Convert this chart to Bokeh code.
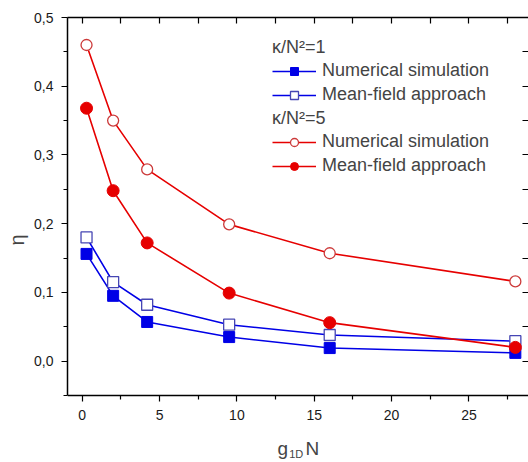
from bokeh.plotting import figure
from bokeh.models import Range1d, FixedTicker, LinearAxis, Legend, LegendItem, Label
from bokeh.embed import file_html
from bokeh.resources import INLINE

# ---- data ----
g1dN = [0.28, 2.0, 4.2, 9.5, 16.0, 28.0]
k1_numerical = [0.156, 0.095, 0.057, 0.035, 0.019, 0.012]
k1_meanfield = [0.180, 0.115, 0.082, 0.053, 0.038, 0.029]
k5_numerical = [0.460, 0.350, 0.279, 0.199, 0.157, 0.116]
k5_meanfield = [0.368, 0.248, 0.172, 0.099, 0.056, 0.020]

x_major = [0, 5, 10, 15, 20, 25]
x_minor = [2.5, 7.5, 12.5, 17.5, 22.5, 27.5]
y_major = [0.0, 0.1, 0.2, 0.3, 0.4, 0.5]
y_minor = [-0.05, 0.05, 0.15, 0.25, 0.35, 0.45]
y_labels = ["0,0", "0,1", "0,2", "0,3", "0,4", "0,5"]
y_axis_bottom = -0.05
y_axis_top = 0.5

FONT = "Liberation Sans"
BLUE = "#0000e6"
RED = "#e60000"

# the frame reaches the page bottom so the x-axis title (drawn as labels) is not clipped;
# the visible x axis is placed at y = -0.05
p = figure(width=528, height=462, output_backend="svg", toolbar_location=None,
           x_range=Range1d(-0.95, 28.85), y_range=Range1d(-0.1475, y_axis_top),
           min_border_left=67, min_border_top=17, min_border_bottom=0, min_border_right=0)
p.grid.visible = False
p.outline_line_color = None
p.background_fill_color = "white"
p.border_fill_color = "white"

def style_axis(ax, ticks, minor, inward=False):
    ax.axis_line_width = 1.5
    ax.axis_line_color = "black"
    ax.major_tick_line_width = 1.2
    ax.minor_tick_line_width = 1.2
    ax.major_label_text_font = FONT
    ax.major_label_text_font_size = "14px"
    ax.major_label_text_color = "#1a1a1a"
    if inward:
        # mirrored axes: ticks only, no labels
        ax.ticker = FixedTicker(ticks=[], minor_ticks=ticks + minor)
        ax.minor_tick_in = 6
        ax.minor_tick_out = 0
        ax.major_tick_in = 0
        ax.major_tick_out = 0
        ax.major_label_standoff = 0
    else:
        ax.ticker = FixedTicker(ticks=ticks, minor_ticks=minor)
        ax.major_tick_in = 0
        ax.major_tick_out = 6
        ax.minor_tick_in = 0
        ax.minor_tick_out = 4

xa = p.xaxis[0]
ya = p.yaxis[0]
style_axis(xa, x_major, x_minor)
style_axis(ya, y_major, y_minor)
xa.fixed_location = y_axis_bottom
xa.major_label_standoff = 9
ya.bounds = (y_axis_bottom, y_axis_top)
ya.major_label_standoff = 8
ya.major_label_overrides = {v: s for v, s in zip(y_major, y_labels)}
ya.axis_label = "η"
ya.axis_label_text_font = FONT
ya.axis_label_text_font_size = "20px"
ya.axis_label_text_font_style = "normal"
ya.axis_label_standoff = 3

top = LinearAxis()
style_axis(top, x_major, x_minor, inward=True)
p.add_layout(top, "above")
right = LinearAxis(bounds=(y_axis_bottom, y_axis_top))
style_axis(right, y_major, y_minor, inward=True)
right.axis_line_color = None
p.add_layout(right, "right")

# ---- series ----
l1n = p.line(g1dN, k1_numerical, line_color=BLUE, line_width=1.6)
s1n = p.scatter(g1dN, k1_numerical, marker="square", size=11, fill_color=BLUE, line_color=BLUE)
l1m = p.line(g1dN, k1_meanfield, line_color=BLUE, line_width=1.6)
s1m = p.scatter(g1dN, k1_meanfield, marker="square", size=11, fill_color="white", line_color="#4646b4", line_width=1.3)
l5n = p.line(g1dN, k5_numerical, line_color=RED, line_width=1.6)
s5n = p.scatter(g1dN, k5_numerical, marker="circle", size=11, fill_color="white", line_color="#cc3a3a", line_width=1.3)
l5m = p.line(g1dN, k5_meanfield, line_color=RED, line_width=1.6)
s5m = p.scatter(g1dN, k5_meanfield, marker="circle", size=12, fill_color=RED, line_color=RED)

def make_legend(title, items, loc):
    lg = Legend(items=items, location=loc, title=title,
                title_text_font=FONT, title_text_font_size="18px", title_text_font_style="normal",
                title_standoff=2,
                label_text_font=FONT, label_text_font_size="18px",
                glyph_width=44, glyph_height=20, label_height=20, label_standoff=6,
                spacing=3, padding=0, margin=0,
                border_line_color=None, background_fill_alpha=0)
    p.add_layout(lg, "center")

make_legend("κ/N²=1", [LegendItem(label="Numerical simulation", renderers=[l1n, s1n]),
                       LegendItem(label="Mean-field approach", renderers=[l1m, s1m])], (205, 357))
make_legend("κ/N²=5", [LegendItem(label="Numerical simulation", renderers=[l5n, s5n]),
                       LegendItem(label="Mean-field approach", renderers=[l5m, s5m])], (205, 286))

# ---- x axis title: g_1D N ----
p.add_layout(Label(x=12.62, y=-0.1275, text="g", text_font=FONT, text_font_size="19px",
                   text_align="left", text_baseline="alphabetic"))
p.add_layout(Label(x=13.38, y=-0.1355, text="1D", text_font=FONT, text_font_size="11px",
                   text_align="left", text_baseline="alphabetic"))
p.add_layout(Label(x=14.43, y=-0.1275, text="N", text_font=FONT, text_font_size="19px",
                   text_align="left", text_baseline="alphabetic"))

open("out.html", "w").write(file_html(p, INLINE))
